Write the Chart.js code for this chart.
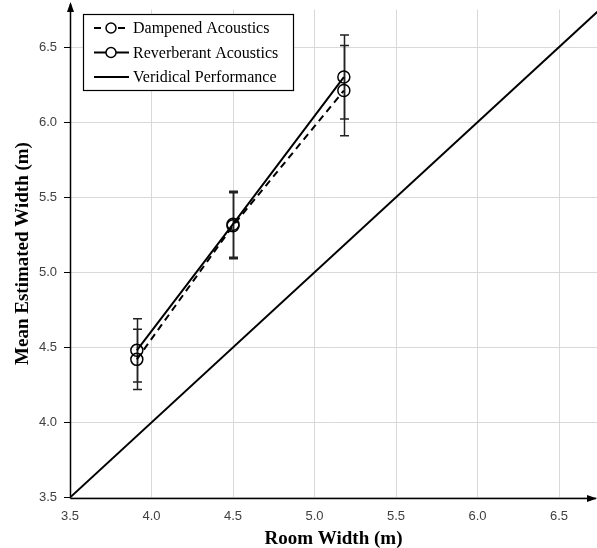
<!DOCTYPE html>
<html>
<head>
<meta charset="utf-8">
<script src="https://cdn.jsdelivr.net/npm/chart.js@4/dist/chart.umd.min.js"></script>
<style>
  body { margin: 0; background: #fff; }
  #wrap { width: 597px; height: 548px; }
</style>
</head>
<body>
<div id="wrap"><canvas id="widthChart" width="597" height="548"></canvas></div>
<script>
// room widths (m) and mean estimates
const roomWidths = [3.91, 4.50, 5.18];
const dampenedMeans = [4.42, 5.31, 6.21];
const dampenedErr = [0.20, 0.22, 0.30];
const reverbMeans = [4.48, 5.32, 6.30];
const reverbErr = [0.21, 0.22, 0.28];
const veridicalX = [3.5, 6.75];
const veridicalY = [3.5, 6.75];
const seriesNames = ['Dampened Acoustics', 'Reverberant Acoustics', 'Veridical Performance'];

function toPoints(xs, ys) {
    return xs.map(function (x, i) { return { x: x, y: ys[i] }; });
}

// error bars, drawn under the lines
const errorBars = {
    id: 'errorBars',
    beforeDatasetsDraw: function (chart) {
        const ctx = chart.ctx;
        const xs = chart.scales.x, ys = chart.scales.y;
        const sets = [[dampenedMeans, dampenedErr], [reverbMeans, reverbErr]];
        ctx.save();
        ctx.strokeStyle = '#222';
        ctx.lineWidth = 1.5;
        sets.forEach(function (s) {
            roomWidths.forEach(function (w, i) {
                const px = Math.round(xs.getPixelForValue(w)) + 0.5;
                const top = ys.getPixelForValue(s[0][i] + s[1][i]);
                const bot = ys.getPixelForValue(s[0][i] - s[1][i]);
                ctx.beginPath();
                ctx.moveTo(px, top); ctx.lineTo(px, bot);
                ctx.moveTo(px - 4.5, top); ctx.lineTo(px + 4.5, top);
                ctx.moveTo(px - 4.5, bot); ctx.lineTo(px + 4.5, bot);
                ctx.stroke();
            });
        });
        ctx.restore();
    }
};

// axis arrows + boxed legend
const axesAndLegend = {
    id: 'axesAndLegend',
    afterDraw: function (chart) {
        const ctx = chart.ctx;
        const a = chart.chartArea;
        ctx.save();
        ctx.strokeStyle = '#000';
        ctx.fillStyle = '#000';
        ctx.lineWidth = 1.5;
        const x0 = Math.round(a.left) + 0.5, y0 = Math.round(a.bottom) + 0.5;
        ctx.beginPath();
        ctx.moveTo(x0, y0); ctx.lineTo(x0, 4);
        ctx.moveTo(x0, y0); ctx.lineTo(596, y0);
        ctx.stroke();
        ctx.beginPath();
        ctx.moveTo(x0, 2); ctx.lineTo(x0 - 3.5, 12); ctx.lineTo(x0 + 3.5, 12); ctx.closePath();
        ctx.fill();
        ctx.beginPath();
        ctx.moveTo(597, y0); ctx.lineTo(587, y0 - 3.5); ctx.lineTo(587, y0 + 3.5); ctx.closePath();
        ctx.fill();

        // legend
        const lx = 83.5, ly = 14.5, lw = 210, lh = 76;
        ctx.fillStyle = '#fff';
        ctx.fillRect(lx, ly, lw, lh);
        ctx.lineWidth = 1.2;
        ctx.strokeRect(lx, ly, lw, lh);
        const rows = [28, 52.5, 77];
        ctx.font = '16px "Liberation Serif", "Times New Roman", serif';
        ctx.textBaseline = 'middle';
        rows.forEach(function (ry, i) {
            ctx.strokeStyle = '#000';
            ctx.lineWidth = 2;
            ctx.setLineDash(i === 0 ? [7, 5] : []);
            ctx.beginPath();
            ctx.moveTo(94, ry); ctx.lineTo(129, ry);
            ctx.stroke();
            ctx.setLineDash([]);
            if (i < 2) {
                ctx.lineWidth = 1.5;
                ctx.beginPath();
                ctx.arc(111, ry, 5, 0, Math.PI * 2);
                ctx.fillStyle = '#fff';
                ctx.fill();
                ctx.stroke();
            }
            ctx.fillStyle = '#000';
            ctx.fillText(seriesNames[i], 133, ry + 1);
        });
        ctx.restore();
    }
};

const tickFont = { family: '"Liberation Sans", Arial, sans-serif', size: 13 };
const titleFont = { family: '"Liberation Serif", "Times New Roman", serif', size: 19, weight: 'bold' };

const ctxWidth = document.getElementById('widthChart').getContext('2d');
const widthChart = new Chart(ctxWidth, {
    type: 'scatter',
    data: {
        datasets: [{
            label: seriesNames[0],
            data: toPoints(roomWidths, dampenedMeans),
            showLine: true,
            borderColor: '#000',
            borderWidth: 2,
            borderDash: [7, 5],
            pointStyle: 'circle',
            pointRadius: 6,
            pointBorderWidth: 1.5,
            pointBackgroundColor: 'rgba(0,0,0,0)',
            pointBorderColor: '#000'
        }, {
            label: seriesNames[1],
            data: toPoints(roomWidths, reverbMeans),
            showLine: true,
            borderColor: '#000',
            borderWidth: 2,
            pointRadius: 6,
            pointBorderWidth: 1.5,
            pointBackgroundColor: 'rgba(0,0,0,0)',
            pointBorderColor: '#000'
        }, {
            label: seriesNames[2],
            data: toPoints(veridicalX, veridicalY),
            showLine: true,
            borderColor: '#000',
            borderWidth: 2,
            pointRadius: 0
        }]
    },
    options: {
        responsive: false,
        animation: false,
        events: [],
        layout: { autoPadding: false, padding: { top: 9.5, right: 0, left: 0, bottom: 0 } },
        plugins: {
            legend: { display: false },
            tooltip: { enabled: false }
        },
        scales: {
            x: {
                type: 'linear',
                min: 3.5,
                max: 6.733,
                ticks: { stepSize: 0.5, includeBounds: false, color: '#404040', font: tickFont, padding: 11,
                    callback: function (v) { return v.toFixed(1); } },
                grid: { color: '#d9d9d9', lineWidth: 1, drawTicks: false },
                border: { display: false },
                title: { display: true, text: 'Room Width (m)', color: '#000', font: titleFont, padding: { top: 4, bottom: -2 } },
                afterFit: function (s) { s.height = 50.5; s.paddingLeft = 0; s.paddingRight = 0; }
            },
            y: {
                type: 'linear',
                min: 3.5,
                max: 6.75,
                ticks: { stepSize: 0.5, includeBounds: false, color: '#404040', font: tickFont, padding: 7,
                    callback: function (v) { return v.toFixed(1); } },
                grid: { color: '#d9d9d9', lineWidth: 1, tickLength: 6, tickColor: '#000' },
                border: { display: false },
                title: { display: true, text: 'Mean Estimated Width (m)', color: '#000', font: titleFont, padding: { top: 12, bottom: 4 } },
                afterFit: function (s) { s.width = 70; s.paddingTop = 0; s.paddingBottom = 0; }
            }
        }
    },
    plugins: [errorBars, axesAndLegend]
});
</script>
</body>
</html>
